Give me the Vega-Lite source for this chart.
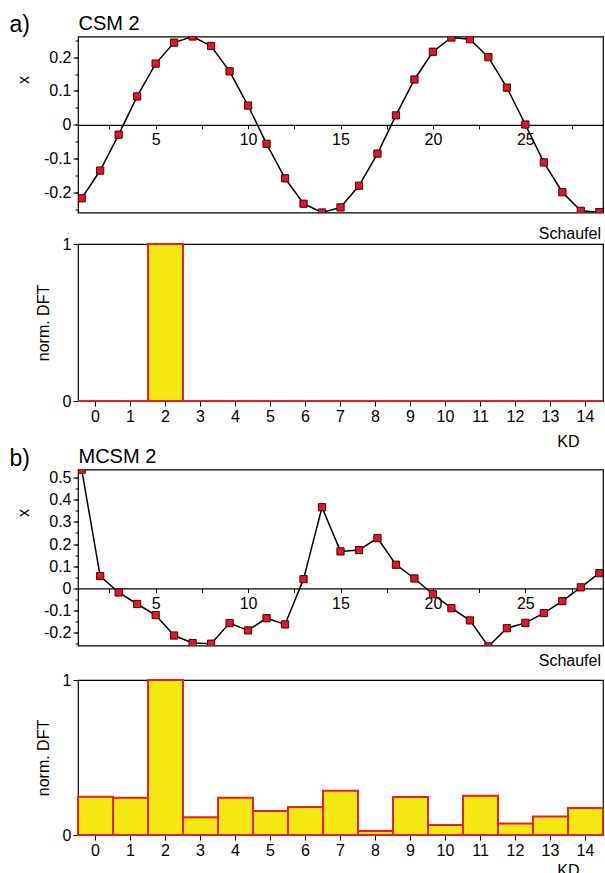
{
  "$schema": "https://vega.github.io/schema/vega-lite/v6.json",
  "autosize": {"type": "pad"},
  "padding": {"left": 8, "top": 11.5, "right": 2, "bottom": 0},
  "background": "white",
  "config": {
    "font": "Liberation Sans",
    "view": {"stroke": "black", "strokeWidth": 1.2},
    "axis": {
      "labelFont": "Liberation Sans", "titleFont": "Liberation Sans",
      "labelColor": "black", "titleColor": "black", "tickColor": "black",
      "domainColor": "black", "labelFontSize": 16, "titleFontSize": 16,
      "titleFontWeight": "normal", "grid": false, "zindex": 0, "tickWidth": 1
    },
    "title": {"color": "black", "fontWeight": "normal", "font": "Liberation Sans"}
  },
  "datasets": {
    "csm": [
      {"s": 1, "x": -0.217}, {"s": 2, "x": -0.135}, {"s": 3, "x": -0.029}, {"s": 4, "x": 0.084},
      {"s": 5, "x": 0.181}, {"s": 6, "x": 0.243}, {"s": 7, "x": 0.261}, {"s": 8, "x": 0.233},
      {"s": 9, "x": 0.158}, {"s": 10, "x": 0.057}, {"s": 11, "x": -0.056}, {"s": 12, "x": -0.158},
      {"s": 13, "x": -0.233}, {"s": 14, "x": -0.259}, {"s": 15, "x": -0.244}, {"s": 16, "x": -0.18},
      {"s": 17, "x": -0.085}, {"s": 18, "x": 0.028}, {"s": 19, "x": 0.134}, {"s": 20, "x": 0.216},
      {"s": 21, "x": 0.258}, {"s": 22, "x": 0.253}, {"s": 23, "x": 0.2}, {"s": 24, "x": 0.11},
      {"s": 25, "x": 0.001}, {"s": 26, "x": -0.111}, {"s": 27, "x": -0.199}, {"s": 28, "x": -0.254},
      {"s": 29, "x": -0.258}
    ],
    "mcsm": [
      {"s": 1, "x": 0.535}, {"s": 2, "x": 0.056}, {"s": 3, "x": -0.018}, {"s": 4, "x": -0.07},
      {"s": 5, "x": -0.12}, {"s": 6, "x": -0.212}, {"s": 7, "x": -0.246}, {"s": 8, "x": -0.249},
      {"s": 9, "x": -0.156}, {"s": 10, "x": -0.189}, {"s": 11, "x": -0.134}, {"s": 12, "x": -0.162},
      {"s": 13, "x": 0.042}, {"s": 14, "x": 0.366}, {"s": 15, "x": 0.167}, {"s": 16, "x": 0.173},
      {"s": 17, "x": 0.227}, {"s": 18, "x": 0.107}, {"s": 19, "x": 0.045}, {"s": 20, "x": -0.026},
      {"s": 21, "x": -0.089}, {"s": 22, "x": -0.144}, {"s": 23, "x": -0.261}, {"s": 24, "x": -0.179},
      {"s": 25, "x": -0.155}, {"s": 26, "x": -0.111}, {"s": 27, "x": -0.057}, {"s": 28, "x": 0.005},
      {"s": 29, "x": 0.069}
    ],
    "dftA": [
      {"kd": 0, "v": 0}, {"kd": 1, "v": 0}, {"kd": 2, "v": 1}, {"kd": 3, "v": 0}, {"kd": 4, "v": 0},
      {"kd": 5, "v": 0}, {"kd": 6, "v": 0}, {"kd": 7, "v": 0}, {"kd": 8, "v": 0}, {"kd": 9, "v": 0},
      {"kd": 10, "v": 0}, {"kd": 11, "v": 0}, {"kd": 12, "v": 0}, {"kd": 13, "v": 0}, {"kd": 14, "v": 0}
    ],
    "dftB": [
      {"kd": 0, "v": 0.247}, {"kd": 1, "v": 0.24}, {"kd": 2, "v": 1}, {"kd": 3, "v": 0.115}, {"kd": 4, "v": 0.24},
      {"kd": 5, "v": 0.155}, {"kd": 6, "v": 0.181}, {"kd": 7, "v": 0.285}, {"kd": 8, "v": 0.026}, {"kd": 9, "v": 0.245},
      {"kd": 10, "v": 0.064}, {"kd": 11, "v": 0.253}, {"kd": 12, "v": 0.074}, {"kd": 13, "v": 0.119}, {"kd": 14, "v": 0.174}
    ]
  },
  "spacing": -5,
  "vconcat": [
    {
      "spacing": 11.5,
      "vconcat": [
        {
          "width": 525, "height": 176,
          "data": {"name": "csm"},
          "encoding": {
            "x": {"field": "s", "type": "quantitative",
              "scale": {"domain": [0.8, 29.2], "nice": false, "zero": false},
              "axis": {"values": [2.5, 5, 7.5, 10, 12.5, 15, 17.5, 20, 22.5, 25, 27.5],
                "labelExpr": "datum.value % 5 === 0 ? format(datum.value, 'd') : ''",
                "offset": -87.66, "tickSize": 4, "domain": true, "domainWidth": 1.2,
                "labelPadding": 3, "labelFlush": false, "labelOverlap": false,
                "title": "CSM 2", "titleX": 0, "titleY": -95.84, "titleAlign": "left", "titleAnchor": null,
                "titleBaseline": "alphabetic", "titleFontSize": 20}}
          },
          "layer": [
            {
              "mark": {"type": "line", "color": "black", "strokeWidth": 1.5, "clip": true},
              "encoding": {
                "y": {"field": "x", "type": "quantitative",
                  "scale": {"domain": [-0.259, 0.261], "nice": false, "zero": false},
                  "axis": {"orient": "left", "values": [-0.2, -0.1, 0, 0.1, 0.2],
                    "labelExpr": "datum.value < 0 ? '-' + format(-datum.value, '.1f') : (datum.value === 0 ? '0' : format(datum.value, '.1f'))",
                    "tickSize": 5, "domain": false, "labelPadding": 2,
                    "title": "x", "titleX": -55, "titleY": 43, "titleAlign": "center", "titleBaseline": "middle"}}
              }
            },
            {
              "mark": {"type": "square", "size": 52, "filled": true, "fill": "#e5161c", "stroke": "#4a0000", "strokeWidth": 1, "opacity": 1, "clip": true},
              "encoding": {
                "y": {"field": "x", "type": "quantitative",
                  "axis": {"orient": "left", "values": [-0.25, -0.2, -0.15, -0.1, -0.05, 0, 0.05, 0.1, 0.15, 0.2, 0.25],
                    "labels": false, "tickSize": 3, "domain": false,
                    "title": "a)", "titleAngle": 0, "titleX": -69, "titleY": -4.7, "titleAlign": "left", "titleBaseline": "alphabetic", "titleFontSize": 23}}
              }
            }
          ],
          "resolve": {"axis": {"y": "independent"}}
        },
        {
          "width": 525, "height": 157,
          "title": {"text": "Schaufel", "anchor": "end", "frame": "group", "fontSize": 16, "baseline": "alphabetic", "offset": -19.1, "dx": -2},
          "data": {"name": "dftA"},
          "mark": {"type": "bar", "fill": "#f3e812", "stroke": "#ee1c24", "strokeWidth": 2, "opacity": 1},
          "encoding": {
            "x": {"field": "kd", "type": "ordinal",
              "scale": {"paddingInner": 0, "paddingOuter": 0},
              "axis": {"labelAngle": 0, "tickSize": 5, "domain": false, "labelPadding": 2,
                "title": "KD", "titleAnchor": "end", "titleAlign": "right", "titleX": 501, "titleY": 45, "titleBaseline": "alphabetic"}},
            "y": {"field": "v", "type": "quantitative",
              "scale": {"domain": [0, 1], "nice": false},
              "axis": {"values": [0, 1], "format": "d", "tickSize": 5, "domain": false, "labelPadding": 2,
                "title": "norm. DFT", "titleX": -35, "titleY": 78.5, "titleAlign": "center", "titleBaseline": "middle"}}
          }
        }
      ]
    },
    {
      "spacing": 5.5,
      "vconcat": [
        {
          "width": 525, "height": 176,
          "data": {"name": "mcsm"},
          "encoding": {
            "x": {"field": "s", "type": "quantitative",
              "scale": {"domain": [0.8, 29.2], "nice": false, "zero": false},
              "axis": {"values": [2.5, 5, 7.5, 10, 12.5, 15, 17.5, 20, 22.5, 25, 27.5],
                "labelExpr": "datum.value % 5 === 0 ? format(datum.value, 'd') : ''",
                "offset": -57.04, "tickSize": 4, "domain": true, "domainWidth": 1.2,
                "labelPadding": 3, "labelFlush": false, "labelOverlap": false,
                "title": "MCSM 2", "titleX": 0, "titleY": -126.26, "titleAlign": "left", "titleAnchor": null,
                "titleBaseline": "alphabetic", "titleFontSize": 20}}
          },
          "layer": [
            {
              "mark": {"type": "line", "color": "black", "strokeWidth": 1.5, "clip": true},
              "encoding": {
                "y": {"field": "x", "type": "quantitative",
                  "scale": {"domain": [-0.257, 0.536], "nice": false, "zero": false},
                  "axis": {"orient": "left", "values": [-0.2, -0.1, 0, 0.1, 0.2, 0.3, 0.4, 0.5],
                    "labelExpr": "datum.value < 0 ? '-' + format(-datum.value, '.1f') : (datum.value === 0 ? '0' : format(datum.value, '.1f'))",
                    "tickSize": 5, "domain": false, "labelPadding": 2,
                    "title": "x", "titleX": -55, "titleY": 43, "titleAlign": "center", "titleBaseline": "middle"}}
              }
            },
            {
              "mark": {"type": "square", "size": 52, "filled": true, "fill": "#e5161c", "stroke": "#4a0000", "strokeWidth": 1, "opacity": 1, "clip": true},
              "encoding": {
                "y": {"field": "x", "type": "quantitative",
                  "axis": {"orient": "left", "values": [-0.25, -0.2, -0.15, -0.1, -0.05, 0, 0.05, 0.1, 0.15, 0.2, 0.25, 0.3, 0.35, 0.4, 0.45, 0.5],
                    "labels": false, "tickSize": 3, "domain": false,
                    "title": "b)", "titleAngle": 0, "titleX": -69, "titleY": -4.5, "titleAlign": "left", "titleBaseline": "alphabetic", "titleFontSize": 23}}
              }
            }
          ],
          "resolve": {"axis": {"y": "independent"}}
        },
        {
          "width": 525, "height": 155,
          "title": {"text": "Schaufel", "anchor": "end", "frame": "group", "fontSize": 16, "baseline": "alphabetic", "offset": -9.6, "dx": -2},
          "data": {"name": "dftB"},
          "mark": {"type": "bar", "fill": "#f3e812", "stroke": "#ee1c24", "strokeWidth": 2, "opacity": 1},
          "encoding": {
            "x": {"field": "kd", "type": "ordinal",
              "scale": {"paddingInner": 0, "paddingOuter": 0},
              "axis": {"labelAngle": 0, "tickSize": 5, "domain": false, "labelPadding": 2,
                "title": "KD", "titleAnchor": "end", "titleAlign": "right", "titleX": 501, "titleY": 40, "titleBaseline": "alphabetic"}},
            "y": {"field": "v", "type": "quantitative",
              "scale": {"domain": [0, 1], "nice": false},
              "axis": {"values": [0, 1], "format": "d", "tickSize": 5, "domain": false, "labelPadding": 2,
                "title": "norm. DFT", "titleX": -35, "titleY": 77.5, "titleAlign": "center", "titleBaseline": "middle"}}
          }
        }
      ]
    }
  ]
}
